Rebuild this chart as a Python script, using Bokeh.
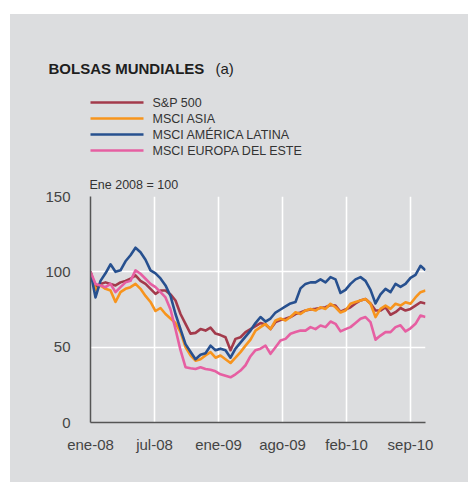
from bokeh.plotting import figure
from bokeh.layouts import column
from bokeh.models import Range1d, FixedTicker, ColumnDataSource
from bokeh.core.properties import value
from bokeh.embed import file_html
from bokeh.resources import INLINE

# ---- data (months since Jan 2008, half-month steps; index Ene 2008 = 100) ----
months = [i * 0.5 for i in range(68)]

sp500 = [100, 90, 92, 93, 92, 91, 93, 94, 95.4, 97.6,
         94, 92, 88.7, 85.4, 87.6, 87.6, 85, 81, 72, 65.5,
         59, 59.5, 62, 61, 63, 59, 58, 56.6, 48, 55.5,
         56.6, 60, 62, 64, 66, 65, 62, 66.6, 68, 68.8,
         70, 72, 73, 74.3, 75, 75.4, 76, 76.5, 78, 77.6,
         73.5, 75, 76.5, 79, 81, 82, 79, 74.3, 74.3, 76.5,
         71.5, 73.2, 76, 74.3, 75.4, 77.6, 79.8, 79]

asia = [100, 88, 91, 88.7, 87.6, 80, 86.5, 88.7, 89.8, 92,
        88.7, 84, 80, 74, 76, 72, 69, 66, 60, 50,
        44.5, 41, 42, 44.5, 46.7, 43, 44.5, 42, 39.5, 43,
        46.7, 51, 55, 61, 63.3, 65.5, 62, 67.7, 69, 67.7,
        70, 73.2, 72, 74.3, 75.4, 74.3, 76.5, 75.4, 78.8, 76.5,
        73, 74.3, 78.8, 80, 81, 82, 78.8, 70, 75.4, 77.6,
        75.4, 78.8, 77.6, 79.8, 78.8, 83, 86.5, 87.6]

latam = [100, 83, 94, 99, 105, 100, 101, 107, 111, 116,
         113, 108, 101, 99, 95.6, 91, 84, 72, 62, 52,
         47, 42, 45, 46, 51, 48, 49, 48, 43, 49,
         53, 57, 61, 66, 70, 67, 69, 73, 75, 77,
         79, 80, 89, 92, 93, 93, 95, 93, 96.5, 95,
         86, 88, 92, 95, 96.5, 94, 88, 79, 85, 88.7,
         86.5, 92, 90, 92, 96, 98, 104, 101]

europa_este = [100, 92, 91, 89.8, 92, 86.5, 89.8, 93, 94, 101,
               98.7, 95.4, 92, 89.8, 86.5, 83, 75, 62, 48, 36.7,
               36, 35.5, 36.7, 35.5, 35, 34, 32, 31, 30, 32,
               34.5, 38, 44, 48, 49, 51, 45.6, 50, 54.4, 55.5,
               58.9, 60, 61, 61, 63.3, 62, 64.4, 63.3, 67, 65.5,
               60.5, 62, 63.3, 66, 68.8, 70, 66.6, 55, 57.7, 60,
               60, 63.3, 64.5, 60.5, 62.5, 65.5, 71, 70]

series_names = ["S&P 500", "MSCI ASIA", "MSCI AMÉRICA LATINA", "MSCI EUROPA DEL ESTE"]
series_values = [sp500, asia, latam, europa_este]
series_colors = ["#a33a4b", "#f7941d", "#27508f", "#e65fa2"]

x_tick_pos = [0, 6.4, 12.8, 19.2, 25.6, 32]
x_tick_labels = ["ene-08", "jul-08", "ene-09", "ago-09", "feb-10", "sep-10"]
y_ticks = [0, 50, 100, 150]

title_text = "BOLSAS MUNDIALES"
title_note = "(a)"
unit_text = "Ene 2008 = 100"

BG = "#dcdddf"
FONT = "Liberation Sans"
TEXT_COL = "#333333"

# ---------------- header (title, legend) ----------------
# coordinates of this panel are page pixels (x right, y down)
head = figure(width=458, height=156, output_backend="svg", toolbar_location=None,
              x_range=Range1d(10, 468), y_range=Range1d(170, 14),
              min_border=0, x_axis_location=None, y_axis_location=None)
head.frame_align = False
head.background_fill_color = BG
head.border_fill_color = BG
head.outline_line_color = None
head.grid.visible = False

head.text(x=[48], y=[68], text=[title_text], text_font=value(FONT), text_font_size="15px",
          text_font_style="bold", text_color="#1e1e1e", text_baseline="alphabetic")
head.text(x=[215], y=[68], text=[title_note], text_font=value(FONT), text_font_size="15px",
          text_color="#1e1e1e", text_baseline="alphabetic")

leg_rows = [102, 118, 134, 150]
head.segment(x0=[90] * 4, x1=[143] * 4, y0=leg_rows, y1=leg_rows,
             line_color=series_colors, line_width=2.6)
head.text(x=[152] * 4, y=leg_rows, text=series_names, text_font=value(FONT),
          text_font_size="12.5px", text_color=TEXT_COL, text_baseline="middle")

# ---------------- chart ----------------
p = figure(width=458, height=312, output_backend="svg", toolbar_location=None,
           x_range=Range1d(0, 33.5), y_range=Range1d(0, 150),
           min_border_left=80, min_border_right=43, min_border_top=26,
           min_border_bottom=60, title=unit_text)
p.frame_align = False
p.title.align = "left"
p.title.offset = -1
p.title.standoff = 10
p.title.text_font = FONT
p.title.text_font_size = "12.5px"
p.title.text_font_style = "normal"
p.title.text_color = TEXT_COL
p.background_fill_color = BG
p.border_fill_color = BG
p.outline_line_color = None

for vals, col in zip(series_values, series_colors):
    src = ColumnDataSource(dict(x=months, y=vals))
    p.line("x", "y", source=src, line_color=col, line_width=2.6, line_join="round")

p.xaxis.ticker = FixedTicker(ticks=x_tick_pos)
p.xaxis.major_label_overrides = {t: l for t, l in zip(x_tick_pos, x_tick_labels)}
p.yaxis.ticker = FixedTicker(ticks=y_ticks)
for ax in (p.xaxis, p.yaxis):
    ax.axis_line_color = "#555555"
    ax.axis_line_width = 1.5
    ax.major_tick_line_color = None
    ax.minor_tick_line_color = None
    ax.major_label_text_font = FONT
    ax.major_label_text_font_size = "15px"
    ax.major_label_text_color = "#444444"
p.xaxis.major_label_standoff = 7
p.yaxis.major_label_standoff = 14

p.xgrid.ticker = FixedTicker(ticks=x_tick_pos[1:])
p.ygrid.ticker = FixedTicker(ticks=y_ticks[1:])
for g in (p.xgrid, p.ygrid):
    g.grid_line_color = "white"
    g.grid_line_width = 1.6

layout = column(head, p, spacing=0, margin=(14, 0, 0, 10),
                styles={"background-color": BG})
open("out.html", "w").write(file_html(layout, INLINE))
